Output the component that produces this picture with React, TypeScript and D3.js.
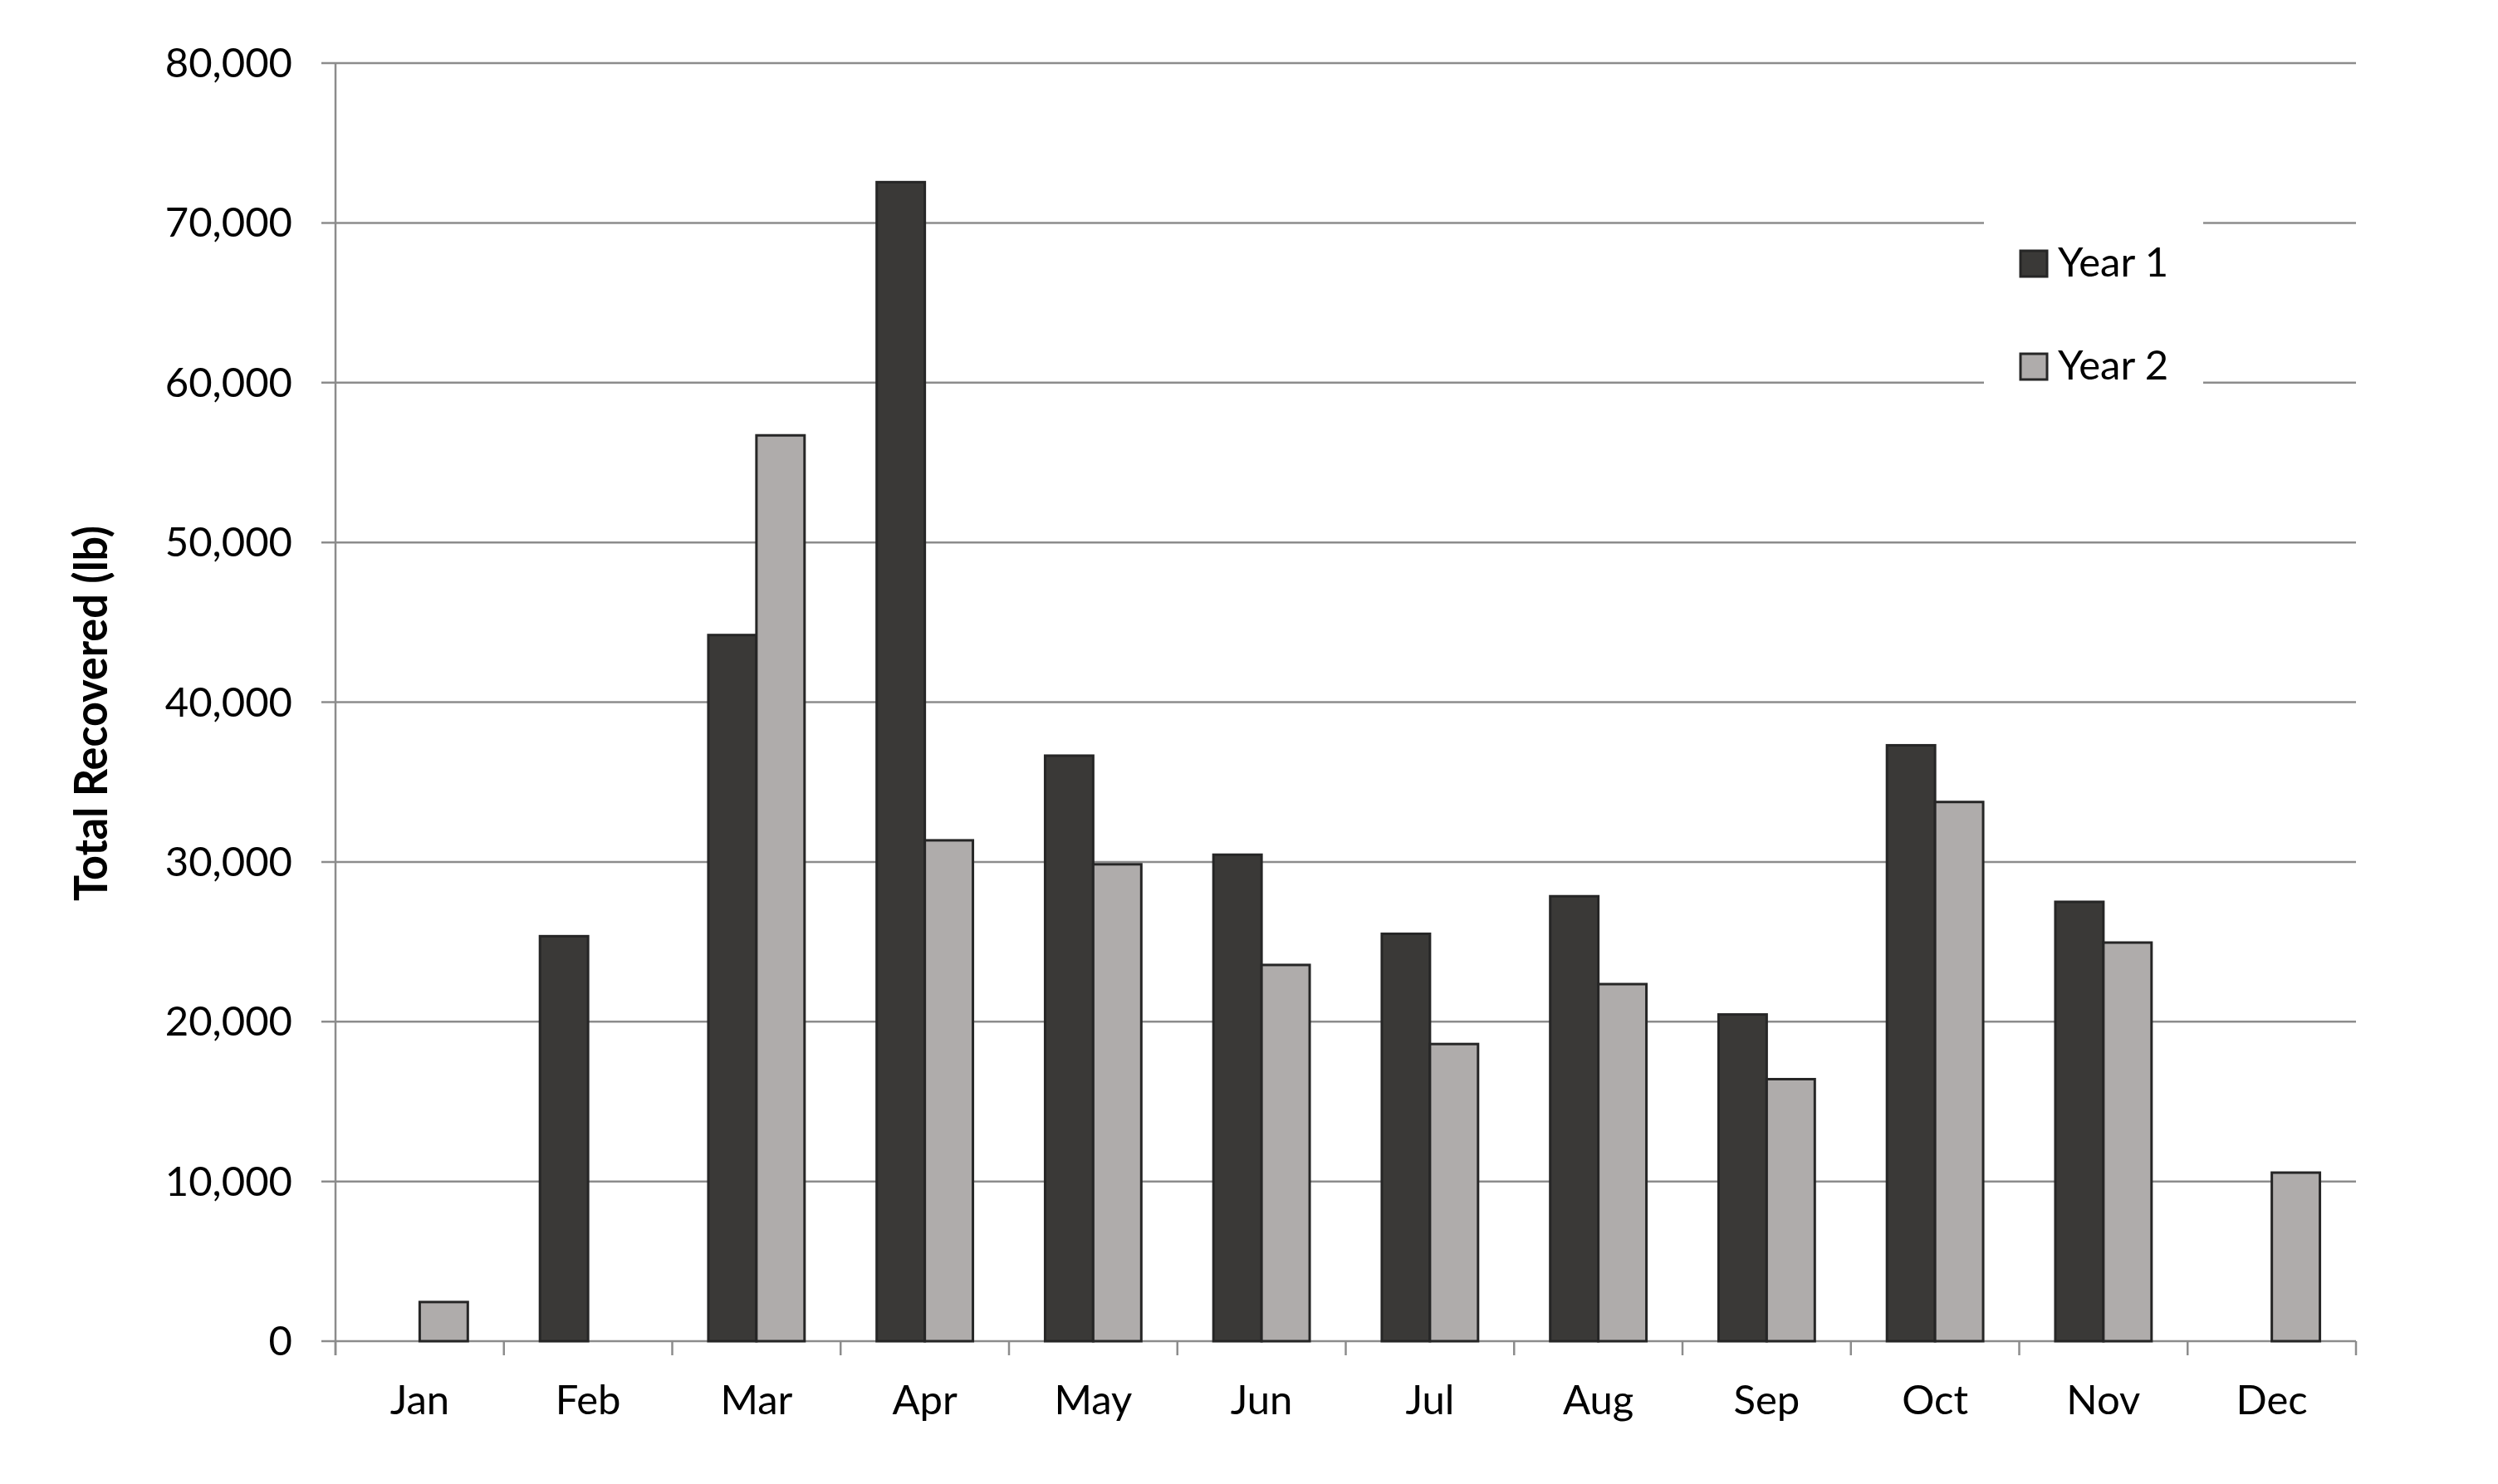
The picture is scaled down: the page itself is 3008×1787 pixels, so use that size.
import React from "react";
import * as d3 from "d3";

const months = ["Jan", "Feb", "Mar", "Apr", "May", "Jun", "Jul", "Aug", "Sep", "Oct", "Nov", "Dec"];
const seriesNames = ["Year 1", "Year 2"];
const year1: (number | null)[] = [null, 25350, 44200, 72550, 36650, 30450, 25500, 27850, 20450, 37300, 27500, null];
const year2: (number | null)[] = [2450, null, 56700, 31350, 29850, 23550, 18600, 22350, 16400, 33750, 24950, 10550];
const yTicks = [0, 10000, 20000, 30000, 40000, 50000, 60000, 70000, 80000];
const yTitle = "Total Recovered (lb)";

const W = 3008;
const H = 1787;
const left = 404;
const right = 2837;
const top = 76;
const bottom = 1615;

const fills = ["#3a3937", "#afacab"];
const FONT = "Lato, 'Open Sans', sans-serif";

export default function App() {
  const x = d3.scaleBand<string>().domain(months).range([left, right]).paddingInner(0).paddingOuter(0);
  const inner = d3.scaleBand<string>().domain(seriesNames).range([0, x.bandwidth()]).paddingInner(0).paddingOuter(0.75);
  const y = d3.scaleLinear().domain([0, 80000]).range([bottom, top]);
  const fmt = d3.format(",");
  const data = [year1, year2];
  const boundaries = months.map((m) => x(m) as number).concat([right]);

  return (
    <svg width={W} height={H} style={{ position: "absolute", left: 0, top: 0, display: "block", background: "#fff" }}>
      <rect x={0} y={0} width={W} height={H} fill="#fff" />
      {/* gridlines */}
      {yTicks.map((t) => (
        <line key={"g" + t} x1={left - 17} x2={right} y1={y(t)} y2={y(t)} stroke="#8c8c8c" strokeWidth={2.5} />
      ))}
      {/* legend background */}
      <rect x={2389} y={250} width={264} height={232} fill="#fff" />
      {/* y axis */}
      <line x1={left} x2={left} y1={top} y2={bottom + 17} stroke="#8c8c8c" strokeWidth={2.5} />
      {/* x ticks */}
      {boundaries.map((b, i) => (
        <line key={"t" + i} x1={b} x2={b} y1={bottom} y2={bottom + 17} stroke="#8c8c8c" strokeWidth={2.5} />
      ))}
      {/* bars */}
      {data.map((series, si) =>
        series.map((v, i) =>
          v == null ? null : (
            <rect
              key={si + "-" + i}
              x={(x(months[i]) as number) + (inner(seriesNames[si]) as number)}
              y={y(v)}
              width={inner.bandwidth()}
              height={y(0) - y(v)}
              fill={fills[si]}
              stroke="#262626"
              strokeWidth={3}
            />
          )
        )
      )}
      {/* y tick labels */}
      {yTicks.map((t) => (
        <text key={"l" + t} x={352} y={y(t) + 17} textAnchor="end" fontFamily={FONT} fontSize={49} fill="#000">
          {fmt(t)}
        </text>
      ))}
      {/* x labels */}
      {months.map((m) => (
        <text
          key={"x" + m}
          x={(x(m) as number) + x.bandwidth() / 2}
          y={1703}
          textAnchor="middle"
          fontFamily={FONT}
          fontSize={49}
          fill="#000"
        >
          {m}
        </text>
      ))}
      {/* y title */}
      <text
        transform={`translate(129,859) rotate(-90)`}
        textAnchor="middle"
        fontFamily={FONT}
        fontWeight="bold"
        fontSize={55}
        fill="#000"
        textLength={452}
        lengthAdjust="spacingAndGlyphs"
      >
        {yTitle}
      </text>
      {/* legend */}
      {seriesNames.map((s, i) => (
        <g key={"lg" + s}>
          <rect x={2433} y={302 + i * 124} width={32} height={31} fill={fills[i]} stroke="#262626" strokeWidth={3} />
          <text x={2478} y={333 + i * 124} fontFamily={FONT} fontSize={49} fill="#000">
            {s}
          </text>
        </g>
      ))}
    </svg>
  );
}
